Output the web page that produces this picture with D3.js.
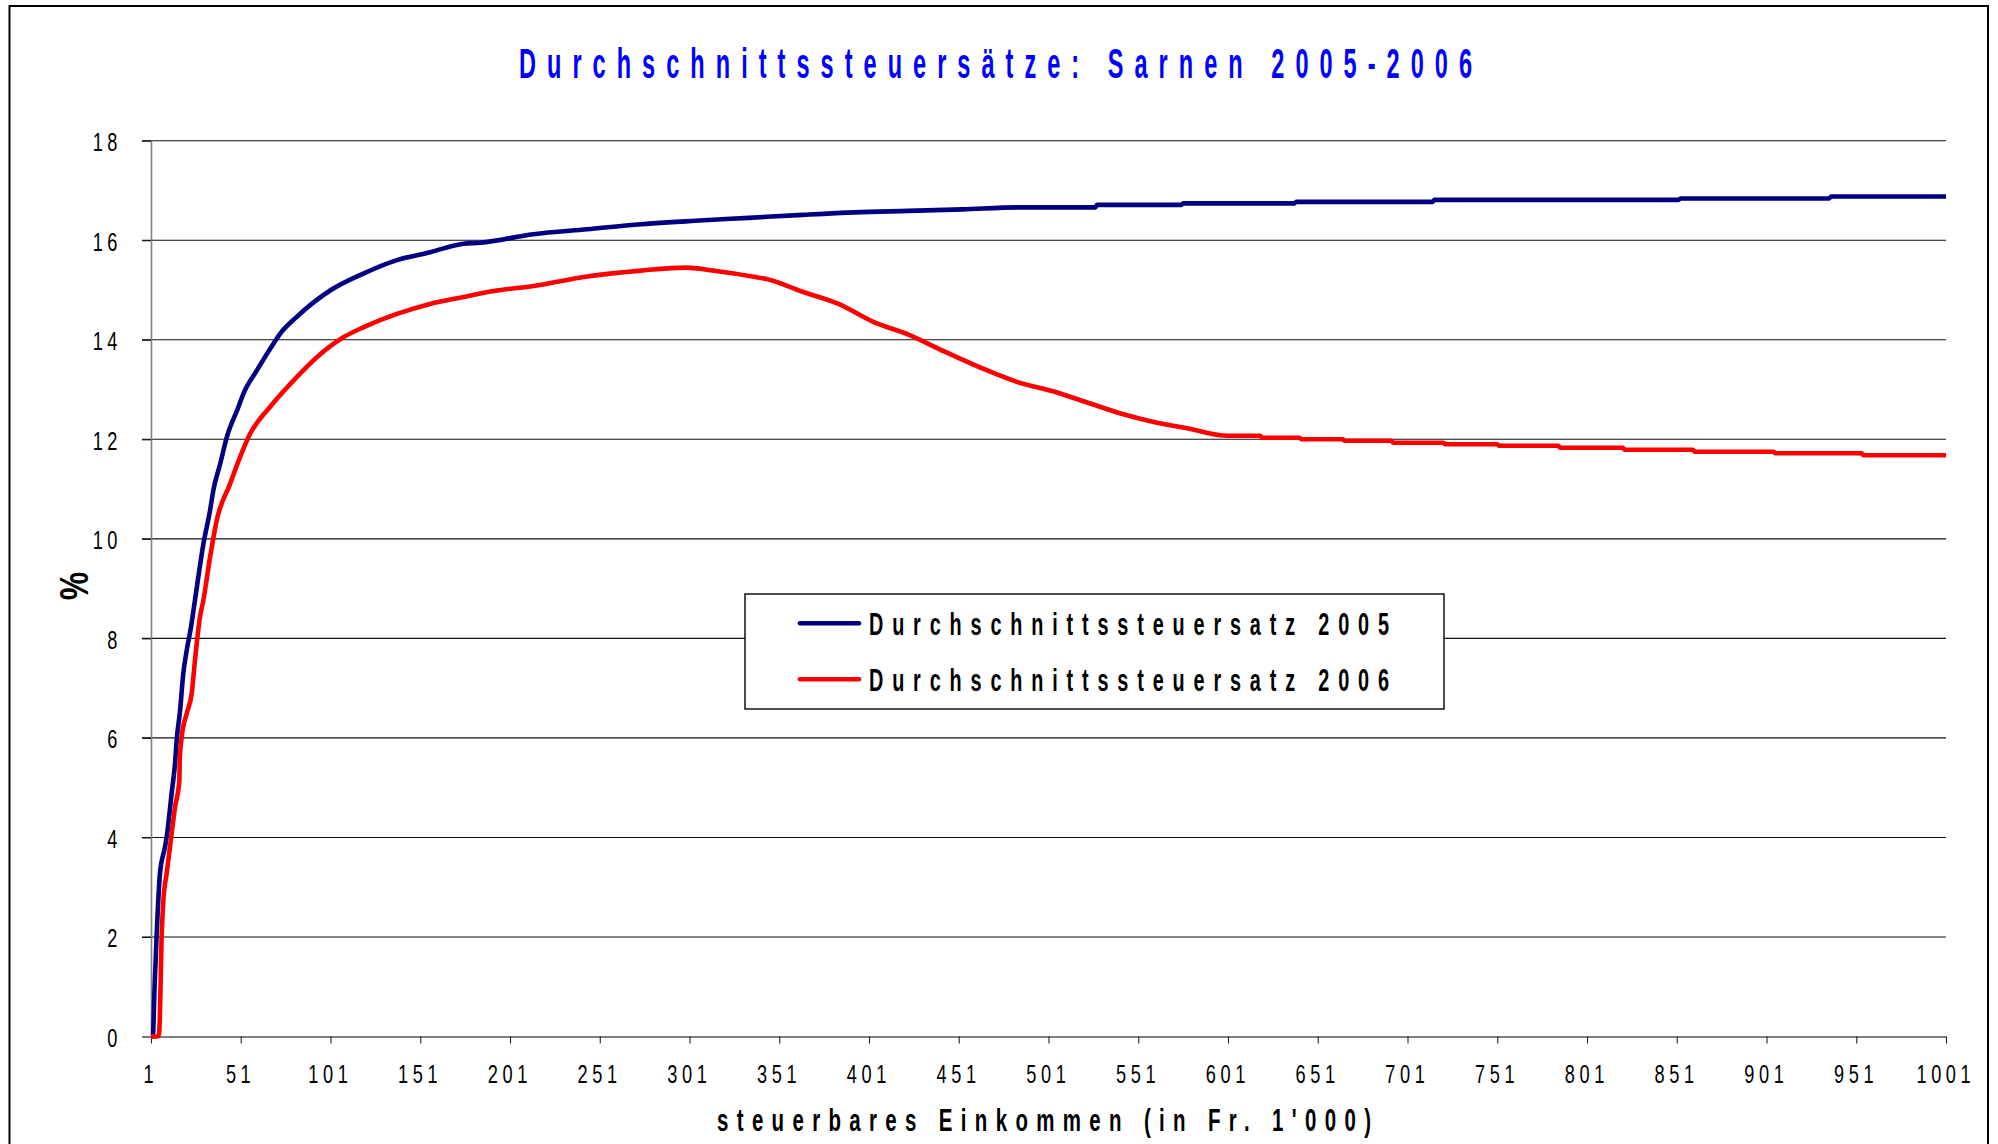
<!DOCTYPE html>
<html>
<head>
<meta charset="utf-8">
<script src="https://cdn.jsdelivr.net/npm/d3@7"></script>
<style>
  html, body { margin: 0; padding: 0; background: #fff; }
  svg { display: block; }
  text { font-family: "Liberation Sans", Arial, sans-serif; }
</style>
</head>
<body>
<svg id="chart" width="1998" height="1144"></svg>
<script>
// ---- data ----
const chartTitle = "Durchschnittssteuersätze: Sarnen 2005-2006";
const xAxisTitle = "steuerbares Einkommen (in Fr. 1'000)";
const yAxisTitle = "%";
const seriesNames = ["Durchschnittssteuersatz 2005", "Durchschnittssteuersatz 2006"];
const seriesColors = ["#000080", "#FF0000"];

const xTicks = [1, 51, 101, 151, 201, 251, 301, 351, 401, 451, 501, 551, 601, 651, 701, 751, 801, 851, 901, 951, 1001];
const xTickLabels = ["1", "51", "101", "151", "201", "251", "301", "351", "401", "451", "501", "551", "601", "651", "701", "751", "801", "851", "901", "951", "1001"];
const yTicks = [0, 2, 4, 6, 8, 10, 12, 14, 16, 18];
const yTickLabels = ["0", "2", "4", "6", "8", "10", "12", "14", "16", "18"];

const income2005 = [1, 2, 3, 4.2, 6, 8.8, 10, 12.5, 14.4, 15.3, 17.2, 19, 20.9, 23.3, 25.5, 30.2, 33.9, 35.7, 39.5, 43.2, 49.7, 52.5, 59.9, 69.2, 72.9, 82.2, 100.8, 119.3, 138, 156.5, 175, 184.4, 214, 244, 274, 304, 334, 364, 393, 423, 453, 485, 527, 528, 575, 576, 638, 639, 715, 716, 852, 853, 936, 937, 1001];
const rate2005 = [0, 0, 1.0, 2.08, 3.28, 3.81, 4.08, 4.89, 5.49, 5.95, 6.55, 7.3, 7.76, 8.23, 8.77, 9.9, 10.57, 10.97, 11.5, 12.04, 12.65, 12.92, 13.38, 13.92, 14.12, 14.46, 14.99, 15.33, 15.6, 15.76, 15.93, 15.95, 16.12, 16.22, 16.32, 16.39, 16.45, 16.51, 16.56, 16.59, 16.62, 16.66, 16.66, 16.71, 16.71, 16.74, 16.74, 16.77, 16.77, 16.81, 16.81, 16.84, 16.84, 16.88, 16.88];

const income2006 = [1, 5, 5.6, 7, 7.9, 9.75, 12.5, 14.4, 16.8, 17, 18.1, 20.9, 23.7, 25.5, 28.3, 30.2, 33.9, 37.6, 45, 50.6, 56.2, 67.3, 82.2, 93.4, 108.2, 119.3, 138, 156.5, 175, 184.4, 193.7, 214, 244, 274, 299, 314, 336, 344, 363.5, 383.4, 403.4, 423.3, 443.2, 463.1, 483, 504, 522.6, 541.2, 559.7, 578.3, 600.6, 619, 620, 641, 642, 665, 666, 692, 693, 721, 722, 751, 752, 785, 786, 821, 822, 860, 861, 905, 906, 954, 955, 1001];
const rate2006 = [0, 0, 0.1, 2.08, 2.74, 3.28, 4.08, 4.61, 5.15, 5.55, 6.02, 6.49, 6.9, 7.56, 8.43, 8.77, 9.63, 10.37, 11.1, 11.64, 12.11, 12.65, 13.25, 13.65, 14.05, 14.25, 14.52, 14.72, 14.86, 14.93, 14.99, 15.08, 15.27, 15.39, 15.45, 15.39, 15.27, 15.22, 14.97, 14.73, 14.36, 14.1, 13.76, 13.44, 13.16, 12.96, 12.74, 12.52, 12.35, 12.22, 12.07, 12.07, 12.03, 12.03, 12.0, 12.0, 11.97, 11.97, 11.93, 11.93, 11.90, 11.90, 11.87, 11.87, 11.83, 11.83, 11.79, 11.79, 11.75, 11.75, 11.72, 11.72, 11.68, 11.68];

// ---- drawing ----
const svg = d3.select("#chart");
const W = 1998, H = 1144;
const plot = { left: 151, right: 1946, top: 140.7, bottom: 1036.5 };

svg.append("rect").attr("x", 0).attr("y", 0).attr("width", W).attr("height", H).attr("fill", "#fff");
// outer frame
svg.append("rect").attr("x", 9.5).attr("y", 6).attr("width", 1978.5).attr("height", 1200)
  .attr("fill", "none").attr("stroke", "#000").attr("stroke-width", 2);

const x = d3.scaleLinear().domain([1, 1001]).range([plot.left, plot.right]);
const y = d3.scaleLinear().domain([0, 18]).range([plot.bottom, plot.top]);

function scaledText(parent, o) {
  const g = parent.append("g")
    .attr("transform", `translate(${o.x},${o.y})` + (o.rotate ? ` rotate(${o.rotate})` : "") + ` scale(${o.sx},1)`);
  const t = g.append("text")
    .attr("text-anchor", o.anchor || "start")
    .style("font-size", o.size + "px")
    .style("font-weight", o.weight || "normal")
    .attr("fill", o.fill || "#000")
    .text(o.text);
  if (o.length) t.attr("textLength", o.length / o.sx).attr("lengthAdjust", "spacing");
  return t;
}

// gridlines
svg.append("g").selectAll("line").data(yTicks.filter(d => d > 0)).join("line")
  .attr("x1", plot.left - 9).attr("x2", plot.right)
  .attr("y1", d => y(d)).attr("y2", d => y(d))
  .attr("stroke", "#111").attr("stroke-width", 1.1);

// y axis
const TS = 0.7, TFS = 26, TLS = 6.5;
const yAxis = svg.append("g").attr("transform", `translate(${plot.left},0)`)
  .call(d3.axisLeft(y).tickValues(yTicks).tickSize(9).tickSizeOuter(0).tickFormat((d, i) => yTickLabels[i]));
yAxis.select(".domain").attr("stroke", "#808080").attr("stroke-width", 1.6);
yAxis.selectAll(".tick line").attr("stroke", "#111").attr("stroke-width", 1.1);
yAxis.selectAll(".tick text")
  .attr("x", -29 / TS).attr("dy", null).attr("y", 10)
  .attr("transform", `scale(${TS},1)`)
  .style("font-size", TFS + "px").style("letter-spacing", TLS + "px")
  .attr("font-family", null).attr("fill", "#000");

// x axis
const xAxis = svg.append("g").attr("transform", `translate(0,${plot.bottom})`)
  .call(d3.axisBottom(x).tickValues(xTicks).tickSize(7).tickSizeOuter(0).tickFormat((d, i) => xTickLabels[i]));
xAxis.select(".domain").attr("stroke", "#808080").attr("stroke-width", 2);
xAxis.selectAll(".tick line").attr("stroke", "#222").attr("stroke-width", 1.1);
xAxis.selectAll(".tick text")
  .attr("x", -1).attr("dy", null).attr("y", 47)
  .attr("transform", `scale(${TS},1)`)
  .style("font-size", TFS + "px").style("letter-spacing", TLS + "px")
  .attr("font-family", null).attr("fill", "#000");
svg.selectAll(".tick text").style("font-family", '"Liberation Sans", Arial, sans-serif');

// lines
const line = d3.line().x(d => x(d[0])).y(d => y(d[1])).curve(d3.curveMonotoneX);
const data2005 = income2005.map((v, i) => [v, rate2005[i]]);
const data2006 = income2006.map((v, i) => [v, rate2006[i]]);
svg.append("path").datum(data2005).attr("d", line)
  .attr("fill", "none").attr("stroke", seriesColors[0]).attr("stroke-width", 4.6).attr("stroke-linejoin", "round");
svg.append("path").datum(data2006).attr("d", line)
  .attr("fill", "none").attr("stroke", seriesColors[1]).attr("stroke-width", 4.6).attr("stroke-linejoin", "round");

// title
scaledText(svg, { x: 995.5, y: 77.5, text: chartTitle, size: 42, weight: "bold", sx: 0.56, fill: "#0000FF", anchor: "middle", length: 953 });
// axis titles
scaledText(svg, { x: 1044, y: 1131, text: xAxisTitle, size: 31, weight: "bold", sx: 0.66, anchor: "middle", length: 654 });
scaledText(svg, { x: 88, y: 586, text: yAxisTitle, size: 40, weight: "bold", sx: 0.8, anchor: "middle", rotate: -90 });

// legend
const lg = svg.append("g");
lg.append("rect").attr("x", 745).attr("y", 594).attr("width", 699).attr("height", 115)
  .attr("fill", "#fff").attr("stroke", "#000").attr("stroke-width", 1.4);
const legY = [623.3, 679.3];
seriesNames.forEach((name, i) => {
  lg.append("line").attr("x1", 800).attr("x2", 859).attr("y1", legY[i]).attr("y2", legY[i])
    .attr("stroke", seriesColors[i]).attr("stroke-width", 4.6).attr("stroke-linecap", "round");
  scaledText(lg, { x: 869, y: legY[i] + 12, text: name, size: 32, weight: "bold", sx: 0.62, anchor: "start", length: 520 });
});
</script>
</body>
</html>
